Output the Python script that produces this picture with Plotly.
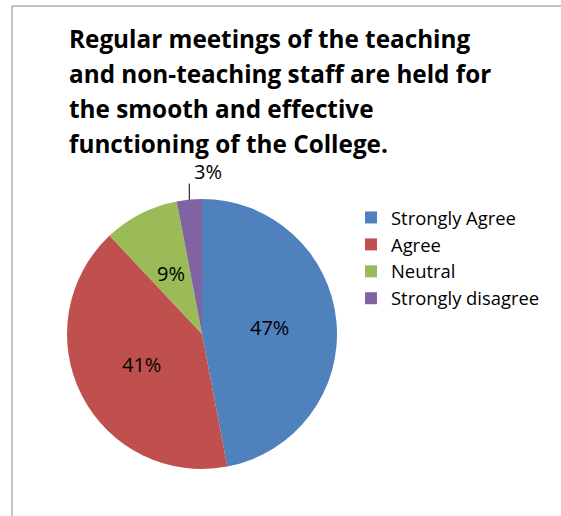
import math
import plotly.graph_objects as go

# Survey responses
categories = ["Strongly Agree", "Agree", "Neutral", "Strongly disagree"]
percentages = [47, 41, 9, 3]
colors = ["#4F81BD", "#C0504D", "#9BBB59", "#8064A2"]
title_lines = [
    "Regular meetings of the teaching",
    "and non-teaching staff are held for",
    "the smooth and effective",
    "functioning of the College.",
]

W, H = 561, 516
FONT = "Open Sans"

# pie geometry in pixels
cx, cy, R = 202, 334, 135


def px(x):
    return x / W


def py(y):
    return 1 - y / H


fig = go.Figure(
    go.Pie(
        labels=categories,
        values=percentages,
        sort=False,
        direction="clockwise",
        rotation=0,
        marker=dict(colors=colors, line=dict(width=0)),
        textinfo="none",
        hoverinfo="label+percent",
        domain=dict(x=[px(cx - R), px(cx + R)], y=[py(cy + R), py(cy - R)]),
    )
)

annotations = []
shapes = []

# title, one annotation per line
for i, line in enumerate(title_lines):
    annotations.append(dict(
        x=px(67), y=py(38 + 35 * i), xref="paper", yref="paper",
        xanchor="left", yanchor="middle", showarrow=False,
        text="<b>%s</b>" % line,
        font=dict(family=FONT, size=24.3, color="#000000"),
    ))

# percentage labels at half radius, centred on each slice
total = sum(percentages)
cum = 0
for cat, v in zip(categories, percentages):
    mid = (cum + v / 2) / total * 2 * math.pi
    cum += v
    label = "%d%%" % round(v / total * 100)
    if v / total >= 0.05:
        lx = cx + 0.5 * R * math.sin(mid)
        ly = cy - 0.5 * R * math.cos(mid)
        annotations.append(dict(
            x=px(lx), y=py(ly), xref="paper", yref="paper",
            xanchor="center", yanchor="middle", showarrow=False,
            text=label, font=dict(family=FONT, size=20, color="#000000"),
        ))
    else:
        # small slice: label outside with a short leader line
        ex = cx + R * math.sin(mid)
        ey = cy - R * math.cos(mid)
        shapes.append(dict(
            type="line", xref="paper", yref="paper",
            x0=px(ex), y0=py(ey), x1=px(ex), y1=py(ey - 16),
            line=dict(color="#000000", width=1),
        ))
        annotations.append(dict(
            x=px(ex + 19), y=py(ey - 28), xref="paper", yref="paper",
            xanchor="center", yanchor="middle", showarrow=False,
            text=label, font=dict(family=FONT, size=20, color="#000000"),
        ))

# chart frame (top and left edges)
shapes.append(dict(type="line", xref="paper", yref="paper",
                   x0=px(12), y0=py(6), x1=1, y1=py(6),
                   line=dict(color="#868686", width=1)))
shapes.append(dict(type="line", xref="paper", yref="paper",
                   x0=px(12), y0=py(6), x1=px(12), y1=0,
                   line=dict(color="#868686", width=1)))

fig.update_layout(
    width=W, height=H,
    margin=dict(l=0, r=0, t=0, b=0),
    paper_bgcolor="#FFFFFF",
    plot_bgcolor="#FFFFFF",
    showlegend=True,
    legend=dict(
        x=px(351), y=py(199), xanchor="left", yanchor="top",
        font=dict(family=FONT, size=18.4, color="#000000"),
        traceorder="normal", itemsizing="constant",
        bgcolor="rgba(0,0,0,0)",
    ),
    annotations=annotations,
    shapes=shapes,
)

fig.write_html("out.html")
